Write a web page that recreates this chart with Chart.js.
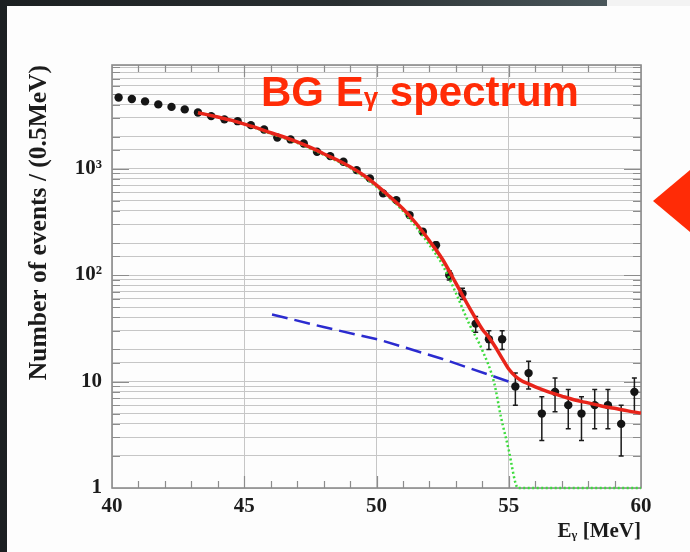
<!DOCTYPE html>
<html>
<head>
<meta charset="utf-8">
<script src="https://cdn.jsdelivr.net/npm/chart.js@4.4.1/dist/chart.umd.min.js"></script>
<style>
  html, body { margin: 0; padding: 0; }
  body {
    width: 690px; height: 552px; position: relative; overflow: hidden;
    background: linear-gradient(90deg, #1c2022 0%, #2a3032 50%, #4a575b 88%, #4f5c60 100%);
  }
  #panel { position: absolute; left: 7px; top: 6px; right: 0; bottom: 0; background: #fdfdfd; }
  #corner { position: absolute; left: 607px; top: 0; width: 83px; height: 6px; background: #f3f3f3; }
  #c { position: absolute; left: 0; top: 0; }
  #title {
    position: absolute; left: 261px; top: 71px;
    font: bold 42px "Liberation Sans", Arial, sans-serif; line-height: 42px;
    color: #ff2b06; white-space: nowrap;
  }
  #title span { font-size: 26px; line-height: 0; }
  #arrow {
    position: absolute; left: 653px; top: 170px; width: 37px; height: 62px;
    background: #ff2b06; clip-path: polygon(0 50%, 100% 0, 100% 100%);
  }
</style>
</head>
<body>
<div id="panel"></div>
<div id="corner"></div>
<canvas id="c" width="690" height="552"></canvas>
<div id="title">BG E<span>γ</span> spectrum</div>
<div id="arrow"></div>
<script>
// ---------------- data ----------------
// measured spectrum, 0.5 MeV bins (bin centres)
const binCentres = [40.25, 40.75, 41.25, 41.75, 42.25, 42.75, 43.25, 43.75, 44.25, 44.75,
                    45.25, 45.75, 46.25, 46.75, 47.25, 47.75, 48.25, 48.75, 49.25, 49.75,
                    50.25, 50.75, 51.25, 51.75, 52.25, 52.75, 53.25, 53.75, 54.25, 54.75,
                    55.25, 55.75, 56.25, 56.75, 57.25, 57.75, 58.25, 58.75, 59.25, 59.75];
const counts = [4660, 4500, 4280, 4010, 3800, 3600, 3370, 3110, 2900, 2790,
                2560, 2330, 1960, 1880, 1720, 1440, 1310, 1160, 968, 809,
                585, 506, 366, 255, 191, 100, 67, 35, 25, 25,
                9, 12, 5, 8, 6, 5, 6, 6, 4, 8];
const countErr = [68, 67, 65, 63, 62, 60, 58, 56, 54, 53,
                  51, 48, 44, 43, 41, 38, 36, 34, 31, 28,
                  24, 22, 19, 16, 14, 10, 8.2, 5.9, 5, 5,
                  3, 3.5, 2.2, 2.8, 2.4, 2.2, 2.4, 2.4, 2, 2.8];

// total fit
const fitX = [43.25, 43.5, 44, 44.5, 45, 45.5, 46, 46.5, 47, 47.5, 48, 48.5, 49, 49.5, 50,
              50.5, 51, 51.5, 52, 52.5, 53, 53.5, 54, 54.25, 54.5, 54.75, 55, 55.25, 55.5,
              55.75, 56, 56.5, 57, 57.5, 58, 58.5, 59, 59.5, 60];
const fitY = [3350, 3250, 3050, 2850, 2620, 2400, 2170, 1980, 1780, 1580, 1380, 1210, 1040, 870, 700,
              545, 420, 305, 210, 140, 84, 50, 31, 26, 21, 16.5, 13.1, 11.2, 10.1,
              9.5, 8.9, 8.0, 7.3, 6.7, 6.3, 5.9, 5.6, 5.3, 5.05];

// accidental component (blue dashed)
const accX = [46.05, 48, 50.15, 52.5, 54.47, 55.2];
const accY = [42.7, 32.5, 24.5, 16.3, 11.1, 9.6];

// peak component (green dotted)
const peakX = [43.25, 44, 45, 46, 47, 48, 49, 50, 51, 52, 52.5, 53, 53.5, 54, 54.45, 54.7, 55.0, 55.26, 55.35, 60];
const peakY = [3350, 3050, 2620, 2130, 1745, 1350, 1015, 675, 400, 192, 124, 68, 35, 19.7, 9.7, 4.7, 2.27, 1.1, 1, 1];

// axes
const xMin = 40, xMax = 60;
const yMin = 1, yMax = 9400;
const yTickValues = [1, 10, 100, 1000];
const yTickLabels = ['1', '10', '10²', '10³'];

const pts = (xs, ys) => xs.map((x, i) => ({ x: x, y: ys[i] }));

// ---------------- plugins ----------------
// ROOT-like frame with inward ticks on all four sides, then error bars, all under the curves
const frameAndErrors = {
  id: 'frameAndErrors',
  beforeDatasetsDraw(chart) {
    const ctx = chart.ctx, a = chart.chartArea;
    const xs = chart.scales.x, ys = chart.scales.y;
    ctx.save();
    ctx.strokeStyle = '#8c8c8c';
    ctx.lineWidth = 1.2;
    ctx.beginPath();
    ys.ticks.forEach(t => {
      if (t.value <= yMin || t.value >= yMax) return;
      const py = Math.round(ys.getPixelForValue(t.value)) + 0.5;
      const major = yTickValues.includes(t.value);
      const len = major ? 17 : 8;
      ctx.moveTo(a.left, py); ctx.lineTo(a.left + len, py);
      ctx.moveTo(a.right, py); ctx.lineTo(a.right - len, py);
    });
    for (let v = xMin + 1; v < xMax; v++) {
      const px = Math.round(xs.getPixelForValue(v)) + 0.5;
      const len = v % 5 === 0 ? 12 : 7;
      ctx.moveTo(px, a.bottom); ctx.lineTo(px, a.bottom - len);
      ctx.moveTo(px, a.top); ctx.lineTo(px, a.top + len);
    }
    ctx.stroke();
    ctx.lineWidth = 1.6;
    ctx.strokeRect(a.left, a.top, a.right - a.left, a.bottom - a.top);

    // vertical error bars
    const meta = chart.getDatasetMeta(0);
    ctx.strokeStyle = '#1a1a1a';
    ctx.lineWidth = 1.5;
    ctx.beginPath();
    meta.data.forEach((p, i) => {
      const top = ys.getPixelForValue(counts[i] + countErr[i]);
      const bot = ys.getPixelForValue(Math.max(counts[i] - countErr[i], yMin));
      ctx.moveTo(p.x, top); ctx.lineTo(p.x, bot);
      ctx.moveTo(p.x - 2.5, top); ctx.lineTo(p.x + 2.5, top);
      ctx.moveTo(p.x - 2.5, bot); ctx.lineTo(p.x + 2.5, bot);
    });
    ctx.stroke();
    ctx.restore();
  }
};

const axisFont = { family: '"Liberation Serif", "Times New Roman", serif', size: 21, weight: 'bold' };

new Chart(document.getElementById('c'), {
  type: 'scatter',
  data: {
    datasets: [
      {
        label: 'data',
        data: pts(binCentres, counts),
        pointRadius: 4.2,
        pointBackgroundColor: '#151515',
        pointBorderWidth: 0,
        order: 4
      },
      {
        label: 'accidental',
        data: pts(accX, accY),
        showLine: true,
        pointRadius: 0,
        borderColor: '#2b2bcf',
        borderWidth: 2.5,
        borderDash: [16, 7],
        order: 3
      },
      {
        label: 'peak',
        data: pts(peakX, peakY),
        showLine: true,
        pointRadius: 0,
        borderColor: '#3ddc3d',
        borderWidth: 2.5,
        borderDash: [2, 2.5],
        cubicInterpolationMode: 'monotone',
        clip: { left: 0, top: 0, right: 0, bottom: 3 },
        order: 2
      },
      {
        label: 'fit',
        data: pts(fitX, fitY),
        showLine: true,
        pointRadius: 0,
        borderColor: '#e8241a',
        borderWidth: 3.5,
        cubicInterpolationMode: 'monotone',
        order: 1
      }
    ]
  },
  options: {
    responsive: false,
    animation: false,
    events: [],
    layout: { padding: { left: 20, right: 49, top: 65, bottom: 8 } },
    plugins: {
      legend: { display: false },
      tooltip: { enabled: false }
    },
    scales: {
      x: {
        type: 'linear',
        min: xMin,
        max: xMax,
        afterFit(scale) { scale.height = 56; },
        border: { display: false },
        grid: { color: '#c6c6c6', lineWidth: 1, drawTicks: false },
        ticks: {
          stepSize: 5,
          padding: 6,
          color: '#1c1c1c',
          font: axisFont,
          callback: v => String(v)
        },
        title: {
          display: true,
          text: 'Eᵧ [MeV]',
          align: 'end',
          color: '#1c1c1c',
          font: axisFont,
          padding: { top: 0, bottom: 0 }
        }
      },
      y: {
        type: 'logarithmic',
        min: yMin,
        max: yMax,
        afterFit(scale) { scale.width = 92; },
        border: { display: false },
        grid: { color: '#c6c6c6', lineWidth: 1, drawTicks: false },
        ticks: {
          autoSkip: false,
          padding: 10,
          color: '#1c1c1c',
          font: axisFont,
          callback: v => {
            const i = yTickValues.indexOf(v);
            return i >= 0 ? yTickLabels[i] : '';
          }
        },
        title: {
          display: true,
          text: 'Number of events / (0.5MeV)',
          align: 'end',
          color: '#1c1c1c',
          font: { family: '"Liberation Serif", "Times New Roman", serif', size: 25.5, weight: 'bold' },
          padding: { top: 4, bottom: 0 }
        }
      }
    }
  },
  plugins: [frameAndErrors]
});
</script>
</body>
</html>
